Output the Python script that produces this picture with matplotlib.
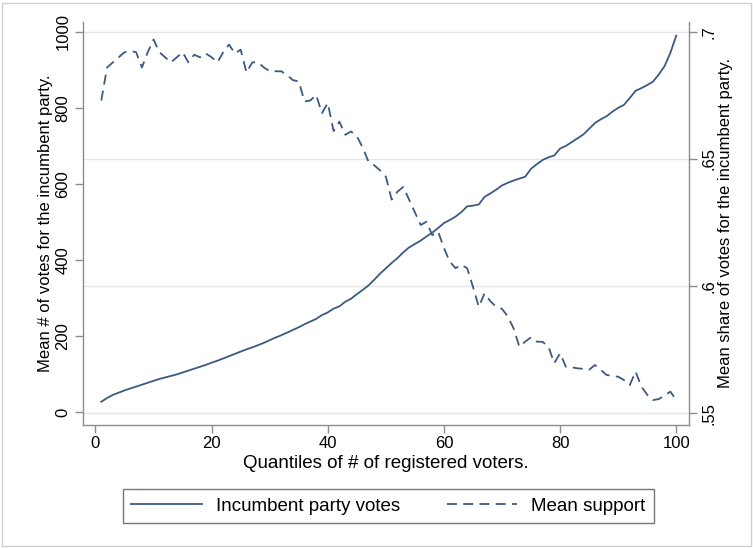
import matplotlib
matplotlib.use("Agg")
import matplotlib.pyplot as plt
import numpy as np
from matplotlib.patches import Rectangle

# quantile index 1..100
quantile = np.arange(1, 101)

votes = [27, 37, 45, 51, 57, 62, 67, 72, 77, 82,
         87, 91, 95, 99, 104, 109, 114, 119, 124, 130,
         135, 141, 147, 153, 159, 165, 170, 176, 182, 189,
         196, 202, 209, 216, 223, 231, 238, 245, 255, 262,
         272, 278, 290, 298, 310, 321, 333, 348, 364, 378,
         392, 405, 420, 433, 442, 451, 462, 472, 484, 497,
         505, 514, 526, 541, 543, 546, 566, 575, 585, 596,
         603, 609, 614, 619, 640, 652, 663, 670, 675, 693,
         700, 710, 720, 730, 745, 760, 770, 778, 790, 800,
         808, 826, 845, 852, 860, 869, 888, 910, 945, 990]

support = [.673, .686, .688, .690, .692, .6925, .692, .686, .692, .697,
           .692, .690, .688, .690, .692, .688, .691, .690, .6915, .690,
           .688, .692, .695, .6915, .693, .684, .688, .688, .686, .6845,
           .6845, .6845, .683, .681, .6805, .6726, .673, .6752, .668, .672,
           .661, .6647, .6595, .6608, .659, .6545, .649, .6475, .6455, .643,
           .634, .6371, .639, .634, .629, .624, .6253, .620, .6214, .615,
           .6096, .607, .6083, .607, .5997, .5918, .5971, .594, .5918, .591,
           .588, .5833, .5761, .5781, .5798, .5781, .578, .5761, .5696, .5735,
           .5682, .568, .5676, .5674, .567, .5689, .567, .565, .5646, .5643,
           .563, .561, .5663, .5604, .5572, .5551, .5555, .557, .5584, .5551]

LINE = "#3b5a80"
AXIS = "#8c8c8c"
GRID = "#e6e6e6"

plt.rcParams.update({
    "font.family": ["Liberation Sans", "DejaVu Sans"],
    "font.size": 12,
})

fig = plt.figure(figsize=(7.53, 5.48), dpi=100)
fig.patches.append(Rectangle((0.003, 0.003), 0.994, 0.992, transform=fig.transFigure,
                             fill=False, edgecolor="#d0d0d0", linewidth=1.0))

ax = fig.add_axes([0.1102, 0.2245, 0.8048, 0.7354])
ax2 = ax.twinx()

l1, = ax.plot(quantile, votes, color=LINE, linewidth=1.3, zorder=3)
l2, = ax2.plot(quantile, support, color=LINE, linewidth=1.3, linestyle=(0, (5.5, 3.5)), zorder=3)

ax.set_xlim(-2.15, 102.2)
ax.set_ylim(-34, 1026)
ax2.set_ylim(0.5453, 0.7039)

ax.set_xticks([0, 20, 40, 60, 80, 100])
ax.set_yticks([0, 200, 400, 600, 800, 1000])
ax2.set_yticks([0.55, 0.6, 0.65, 0.7], [".55", ".6", ".65", ".7"])
ax.set_yticklabels(["0", "200", "400", "600", "800", "1000"], rotation=90, va="center")
for t in ax2.get_yticklabels():
    t.set_rotation(90)
    t.set_va("center")

ax2.grid(axis="y", color=GRID, linewidth=1.0)
ax2.set_axisbelow(True)
ax.set_zorder(ax2.get_zorder() + 1)
ax.patch.set_visible(False)

for a in (ax, ax2):
    a.spines["top"].set_visible(False)
    for s in a.spines.values():
        s.set_color(AXIS)
        s.set_linewidth(1.0)
    a.tick_params(color=AXIS, length=6, width=1.0, labelcolor="black", labelsize=12)
ax.spines["right"].set_visible(False)
ax2.spines["left"].set_visible(False)
ax2.spines["bottom"].set_visible(False)
ax.tick_params(axis="x", pad=2)
ax.tick_params(axis="y", pad=3)
ax2.tick_params(axis="y", pad=3)

ax.set_xlabel("Quantiles of # of registered voters.", labelpad=3, fontsize=13.5)
ax.set_ylabel("Mean # of votes for the incumbent party.", labelpad=2, fontsize=12)
ax2.set_ylabel("Mean share of votes for the incumbent party.", labelpad=1, fontsize=12)

fig.legend([l1, l2], ["Incumbent party votes", "Mean support"], ncol=2,
           loc="center", bbox_to_anchor=(123 / 753, 24 / 548, 531 / 753, 36 / 548),
           mode="expand", borderaxespad=0, frameon=True, fancybox=False,
           edgecolor="#555555", handlelength=3.75, handletextpad=0.75,
           borderpad=0.45, columnspacing=2.0, fontsize=13.5)

fig.savefig("out.png", dpi=100)
